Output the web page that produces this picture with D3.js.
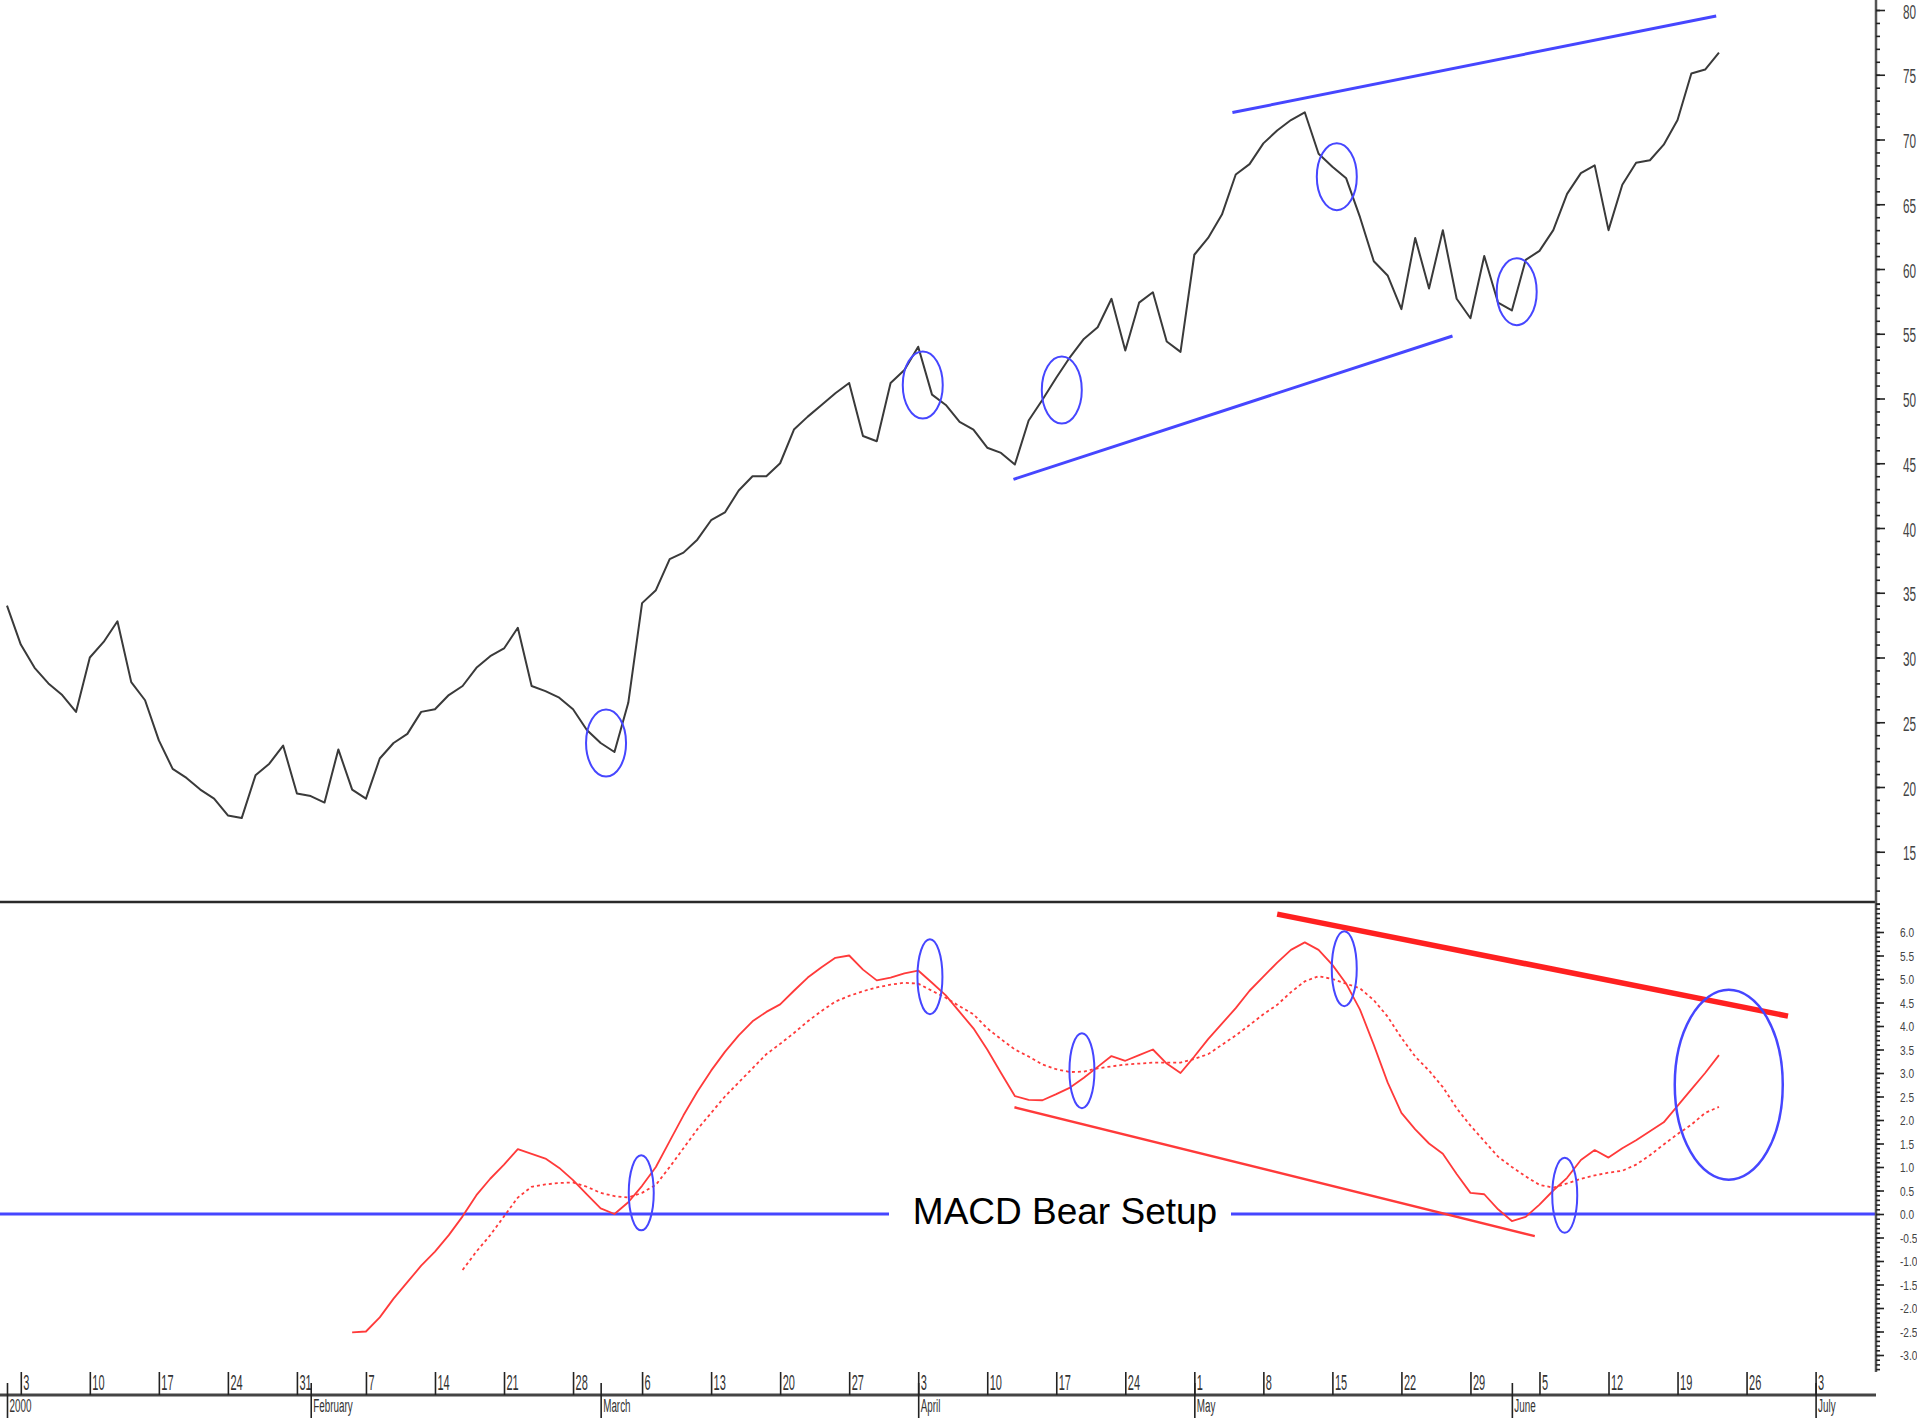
<!DOCTYPE html>
<html><head><meta charset="utf-8">
<script src="https://cdn.jsdelivr.net/npm/d3@7"></script>
<style>html,body{margin:0;padding:0;background:#fff;overflow:hidden}svg{display:block}</style>
</head><body>
<svg id="chart" width="1917" height="1418"></svg>
<script>
// ---------------- DATA ----------------
// trading-day index 0 = Mon 3 Jan 2000
const priceStart = -1;
const price = [34.0,31.0,29.2,28.0,27.1,25.8,30.0,31.2,32.8,28.1,
26.7,23.6,21.4,20.7,19.8,19.1,17.8,17.6,20.9,21.8,
23.2,19.5,19.3,18.8,22.9,19.8,19.1,22.2,23.4,24.1,
25.8,26.0,27.1,27.8,29.2,30.1,30.7,32.3,27.8,27.4,
26.9,26.0,24.4,23.4,22.7,26.5,34.2,35.2,37.6,38.1,
39.1,40.6,41.2,42.9,44.0,44.0,45.0,47.6,48.6,49.5,
50.4,51.2,47.1,46.7,51.2,52.2,54.0,50.3,49.5,48.2,
47.6,46.2,45.8,44.9,48.3,49.9,51.6,53.2,54.6,55.5,
57.7,53.7,57.4,58.2,54.4,53.6,61.1,62.4,64.2,67.3,
68.1,69.7,70.7,71.5,72.1,68.9,67.9,67.0,64.0,60.6,
59.5,56.9,62.4,58.5,63.0,57.7,56.2,61.0,57.4,56.8,
60.7,61.4,63.0,65.8,67.4,68.0,63.0,66.5,68.2,68.4,
69.6,71.5,75.1,75.4,76.7];

const macdStart = 24;
const macd = [-2.52,-2.50,-2.20,-1.80,-1.45,-1.10,-0.80,-0.45,-0.05,0.40,
0.75,1.05,1.38,1.28,1.18,0.98,0.72,0.42,0.12,0.00,
0.25,0.60,1.00,1.55,2.10,2.60,3.05,3.45,3.80,4.10,
4.30,4.46,4.75,5.03,5.25,5.45,5.50,5.20,4.97,5.03,
5.12,5.18,4.92,4.65,4.30,3.95,3.50,3.00,2.51,2.43,
2.42,2.55,2.69,2.90,3.13,3.36,3.26,3.38,3.50,3.20,
3.00,3.35,3.72,4.05,4.38,4.75,5.05,5.35,5.62,5.78,
5.62,5.30,4.90,4.35,3.60,2.80,2.15,1.80,1.50,1.28,
0.85,0.45,0.42,0.10,-0.15,-0.06,0.20,0.50,0.77,1.15,
1.36,1.20,1.40,1.57,1.76,1.95,2.30,2.65,3.00,3.38];

const signalStart = 32;
const signal = [-1.19,-0.80,-0.45,-0.05,0.35,0.58,0.63,0.66,0.67,0.58,
0.45,0.38,0.35,0.45,0.62,1.00,1.40,1.80,2.15,2.50,
2.80,3.10,3.40,3.62,3.85,4.10,4.32,4.52,4.64,4.74,
4.82,4.88,4.92,4.90,4.75,4.60,4.42,4.25,3.95,3.72,
3.50,3.35,3.18,3.08,3.02,3.03,3.10,3.14,3.18,3.20,
3.22,3.22,3.22,3.30,3.40,3.60,3.80,4.02,4.25,4.45,
4.72,4.95,5.06,5.00,4.90,4.80,4.55,4.20,3.75,3.35,
3.05,2.70,2.25,1.88,1.55,1.22,1.00,0.80,0.62,0.56,
0.65,0.75,0.82,0.88,0.92,1.05,1.25,1.48,1.70,1.90,
2.15,2.28];

const priceTicks = [15,20,25,30,35,40,45,50,55,60,65,70,75,80];
const macdTicks = [-3.0,-2.5,-2.0,-1.5,-1.0,-0.5,0.0,0.5,1.0,1.5,2.0,2.5,3.0,3.5,4.0,4.5,5.0,5.5,6.0];
const weekTickIdx = [0,5,10,15,20,25,30,35,40,45,50,55,60,65,70,75,80,85,90,95,100,105,110,115,120,125,130];
const weekTickLabels = ["3","10","17","24","31","7","14","21","28","6","13","20","27","3","10","17","24","1","8","15","22","29","5","12","19","26","3"];
const monthTickIdx = [-1,21,42,65,85,108,130];
const monthLabels = ["2000","February","March","April","May","June","July"];

// annotations, in data coordinates [dayIndex, value, dayIndex, value]
const priceTrendLines = [[87.76,72.08,122.8,79.54],[71.9,43.76,103.7,54.83]];
const priceCircles = [[42.39,23.40],[65.33,51.04],[75.40,50.66],[95.32,67.13],[108.35,58.25]];
const macdCircles = [[44.94,0.45],[65.85,5.05],[76.86,3.05],[95.86,5.22],[111.83,0.40]];
const macdBigCircle = [123.71,2.75];
const macdThickLine = [91.0,6.38,128.0,4.21];
const macdThinLine = [71.97,2.27,109.66,-0.47];
const zeroLabel = "MACD Bear Setup";

// ---------------- DRAW ----------------
const svg = d3.select("#chart");
const axisX = 1876;
const x = d3.scaleLinear().domain([0,130]).range([20.8,1815.6]);
const yP = d3.scaleLinear().domain([15,80]).range([851.75,10]);
const yM = d3.scaleLinear().domain([0,6]).range([1214,932]);
const BLUE = "#4646ff", RED = "#ff3a3a";
const FONT = "'Liberation Sans', Arial, sans-serif";

svg.append("rect").attr("width",1917).attr("height",1418).attr("fill","#fff");

// ---- price panel
const priceData = price.map((v,k)=>({i:priceStart+k,v}));
svg.append("path").datum(priceData)
  .attr("d", d3.line().x(d=>x(d.i)).y(d=>yP(d.v)))
  .attr("fill","none").attr("stroke","#3a3a3a").attr("stroke-width",2)
  .attr("stroke-linejoin","round");

svg.selectAll(".ptl").data(priceTrendLines).join("line").attr("class","ptl")
  .attr("x1",d=>x(d[0])).attr("y1",d=>yP(d[1])).attr("x2",d=>x(d[2])).attr("y2",d=>yP(d[3]))
  .attr("stroke",BLUE).attr("stroke-width",3);

svg.selectAll(".pc").data(priceCircles).join("ellipse").attr("class","pc")
  .attr("cx",d=>x(d[0])).attr("cy",d=>yP(d[1])).attr("rx",20).attr("ry",33.5)
  .attr("fill","none").attr("stroke",BLUE).attr("stroke-width",2);

// separator
svg.append("line").attr("x1",0).attr("x2",axisX).attr("y1",902).attr("y2",902)
  .attr("stroke","#2a2a2a").attr("stroke-width",2.5);

// ---- MACD panel
svg.append("line").attr("x1",0).attr("x2",axisX).attr("y1",yM(0)).attr("y2",yM(0))
  .attr("stroke",BLUE).attr("stroke-width",3);

const macdData = macd.map((v,k)=>({i:macdStart+k,v}));
const sigData = signal.map((v,k)=>({i:signalStart+k,v}));
const lineM = d3.line().x(d=>x(d.i)).y(d=>yM(d.v));
svg.append("path").datum(sigData).attr("d",lineM).attr("fill","none")
  .attr("stroke",RED).attr("stroke-width",1.8).attr("stroke-dasharray","3,3");
svg.append("path").datum(macdData).attr("d",lineM).attr("fill","none")
  .attr("stroke",RED).attr("stroke-width",1.8).attr("stroke-linejoin","round");

svg.append("line")
  .attr("x1",x(macdThickLine[0])).attr("y1",yM(macdThickLine[1]))
  .attr("x2",x(macdThickLine[2])).attr("y2",yM(macdThickLine[3]))
  .attr("stroke","#ff2020").attr("stroke-width",5.5);
svg.append("line")
  .attr("x1",x(macdThinLine[0])).attr("y1",yM(macdThinLine[1]))
  .attr("x2",x(macdThinLine[2])).attr("y2",yM(macdThinLine[3]))
  .attr("stroke",RED).attr("stroke-width",2.5);

svg.selectAll(".mc").data(macdCircles).join("ellipse").attr("class","mc")
  .attr("cx",d=>x(d[0])).attr("cy",d=>yM(d[1])).attr("rx",12.5).attr("ry",37.5)
  .attr("fill","none").attr("stroke",BLUE).attr("stroke-width",2);
svg.append("ellipse").attr("cx",x(macdBigCircle[0])).attr("cy",yM(macdBigCircle[1]))
  .attr("rx",54).attr("ry",95).attr("fill","none").attr("stroke",BLUE).attr("stroke-width",2.5);

// label breaking the zero line
const lblX = 1065, lblY = yM(0)+10;
svg.append("rect").attr("x",889).attr("y",yM(0)-6).attr("width",1231-889).attr("height",12).attr("fill","#fff");
svg.append("text").attr("x",lblX).attr("y",lblY).attr("text-anchor","middle")
  .attr("font-family",FONT).attr("font-size",37)
  .attr("fill","#000").text(zeroLabel);

// ---- right axes
svg.append("line").attr("x1",axisX).attr("x2",axisX).attr("y1",0).attr("y2",1372)
  .attr("stroke","#555").attr("stroke-width",2.5);

function styleAxis(g){ g.select(".domain").remove(); g.selectAll(".tick line").attr("stroke","#222").attr("stroke-width",1.6); }

const gPmin = svg.append("g").attr("transform",`translate(${axisX},0)`)
  .call(d3.axisRight(yP).tickValues(d3.range(11,81)).tickSize(4).tickFormat(""));
styleAxis(gPmin);
const gP = svg.append("g").attr("transform",`translate(${axisX},0)`)
  .call(d3.axisRight(yP).tickValues(priceTicks).tickSize(9).tickFormat(d=>String(d)));
styleAxis(gP);
gP.selectAll(".tick text").attr("x",27/0.56).attr("y",8).attr("dy",null)
  .attr("transform","scale(0.56,1)").attr("text-anchor","start")
  .attr("font-family",FONT).attr("font-size",21).attr("fill","#444");

const gMmin = svg.append("g").attr("transform",`translate(${axisX},0)`)
  .call(d3.axisRight(yM).tickValues(d3.range(-33,67).map(d=>d/10)).tickSize(4).tickFormat(""));
styleAxis(gMmin);
const gM = svg.append("g").attr("transform",`translate(${axisX},0)`)
  .call(d3.axisRight(yM).tickValues(macdTicks).tickSize(8).tickFormat(d=>d.toFixed(1)));
styleAxis(gM);
gM.selectAll(".tick text").attr("x",24/0.78).attr("y",4.5).attr("dy",null)
  .attr("transform","scale(0.78,1)").attr("text-anchor","start")
  .attr("font-family",FONT).attr("font-size",13).attr("fill","#444");

// ---- bottom date axis
const axisY = 1395;
svg.append("line").attr("x1",0).attr("x2",axisX).attr("y1",axisY).attr("y2",axisY)
  .attr("stroke","#444").attr("stroke-width",3);
const gW = svg.append("g").attr("transform",`translate(0,${axisY})`)
  .call(d3.axisTop(x).tickValues(weekTickIdx).tickSize(23).tickFormat((d,k)=>weekTickLabels[k]));
styleAxis(gW);
gW.selectAll(".tick text").attr("x",2/0.5).attr("y",-5).attr("dy",null)
  .attr("transform","scale(0.5,1)").attr("text-anchor","start")
  .attr("font-family",FONT).attr("font-size",22).attr("fill","#333");
const gMo = svg.append("g").attr("transform",`translate(0,${axisY})`)
  .call(d3.axisBottom(x).tickValues(monthTickIdx).tickSize(23).tickFormat((d,k)=>monthLabels[k]));
styleAxis(gMo);
gMo.selectAll(".tick line").attr("y1",-12);
gMo.selectAll(".tick text").attr("x",2/0.52).attr("y",17).attr("dy",null)
  .attr("transform","scale(0.52,1)").attr("text-anchor","start")
  .attr("font-family",FONT).attr("font-size",19).attr("fill","#333");
</script>
</body></html>
